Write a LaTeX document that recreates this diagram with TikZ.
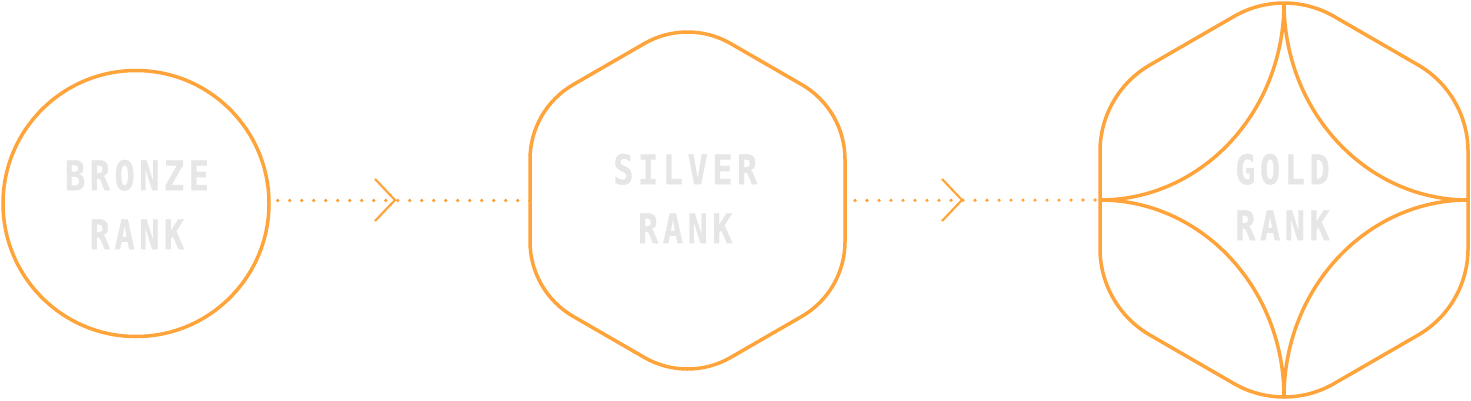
\documentclass[tikz,border=0pt]{standalone}
\usepackage{fontspec}
\usetikzlibrary{calc}
\newfontfamily\rankfont{DejaVu Sans Mono}[FakeStretch=0.82,LetterSpace=11,FakeBold=0.8]
\definecolor{rankorange}{RGB}{255,163,59}
\definecolor{ranktext}{RGB}{230,230,230}
\begin{document}
\begin{tikzpicture}[x=1pt,y=-1pt,
  shapeline/.style={draw=rankorange, line width=3.5pt},
  chev/.style={draw=rankorange, line width=2.2pt},
  dotline/.style={draw=rankorange, line width=3.6pt, line cap=round, dash pattern=on 0pt off 12pt},
  ranklabel/.style={text=ranktext, font=\rankfont\bfseries\fontsize{41}{59}\selectfont, align=center, inner sep=0pt}]
\useasboundingbox (0,0) rectangle (1471,400);
% bronze
\node[shapeline, circle, minimum size=266pt, inner sep=0pt] (bronze) at (136,203.5) {};
% silver (rounded hexagon: corner centres at distance 82.1, radius 86.4)
\coordinate (silver) at (687.5,200.5);
\def\dd{82.1}\def\rr{86.4}
\draw[shapeline] ($(silver)+(90:\dd)+(120:\rr)$) arc[start angle=120,end angle=60,radius=\rr]
  -- ($(silver)+(30:\dd)+(60:\rr)$) arc[start angle=60,end angle=0,radius=\rr]
  -- ($(silver)+(-30:\dd)+(0:\rr)$) arc[start angle=0,end angle=-60,radius=\rr]
  -- ($(silver)+(-90:\dd)+(-60:\rr)$) arc[start angle=-60,end angle=-120,radius=\rr]
  -- ($(silver)+(-150:\dd)+(-120:\rr)$) arc[start angle=-120,end angle=-180,radius=\rr]
  -- ($(silver)+(150:\dd)+(180:\rr)$) arc[start angle=180,end angle=120,radius=\rr]
  -- cycle;
\coordinate (silverW) at ($(silver)+(-157.5,0)$);
\coordinate (silverE) at ($(silver)+(157.5,0)$);
% gold (corner centres at distance 97.0, radius 100)
\coordinate (gold) at (1284,200);
\def\gd{97.0}\def\gr{100}
\draw[shapeline] ($(gold)+(90:\gd)+(120:\gr)$) arc[start angle=120,end angle=60,radius=\gr]
  -- ($(gold)+(30:\gd)+(60:\gr)$) arc[start angle=60,end angle=0,radius=\gr]
  -- ($(gold)+(-30:\gd)+(0:\gr)$) arc[start angle=0,end angle=-60,radius=\gr]
  -- ($(gold)+(-90:\gd)+(-60:\gr)$) arc[start angle=-60,end angle=-120,radius=\gr]
  -- ($(gold)+(-150:\gd)+(-120:\gr)$) arc[start angle=-120,end angle=-180,radius=\gr]
  -- ($(gold)+(150:\gd)+(180:\gr)$) arc[start angle=180,end angle=120,radius=\gr]
  -- cycle;
\coordinate (goldW) at ($(gold)+(-184,0)$);
\coordinate (goldT) at ($(gold)+(0,-197)$);
\coordinate (goldB) at ($(gold)+(0,197)$);
\draw[shapeline] (goldT) arc[start angle=0,end angle=90,x radius=184,y radius=197];
\draw[shapeline] (goldT) arc[start angle=180,end angle=90,x radius=184,y radius=197];
\draw[shapeline] (goldB) arc[start angle=0,end angle=-90,x radius=184,y radius=197];
\draw[shapeline] (goldB) arc[start angle=180,end angle=270,x radius=184,y radius=197];
% labels
\node[ranklabel] (bronzeT) at (137,204.5) {BRONZE\\RANK};
\node[ranklabel] (silverT) at (685.3,198.5) {SILVER\\RANK};
\node[ranklabel] (goldTx) at (1282.5,197) {GOLD\\[-3pt]RANK};
% connectors
\draw[dotline] ([xshift=7pt]bronze.east |- silverW) -- (silverW);
\draw[dotline] ([xshift=10pt]silverE) -- ([xshift=-5pt]goldW);
\coordinate (ch1) at (395,200);
\coordinate (ch2) at (962,200);
\draw[chev] ($(ch1)+(-20,-21)$) -- (ch1) -- ($(ch1)+(-20,21)$);
\draw[chev] ($(ch2)+(-20,-21)$) -- (ch2) -- ($(ch2)+(-20,21)$);
\end{tikzpicture}
\end{document}
